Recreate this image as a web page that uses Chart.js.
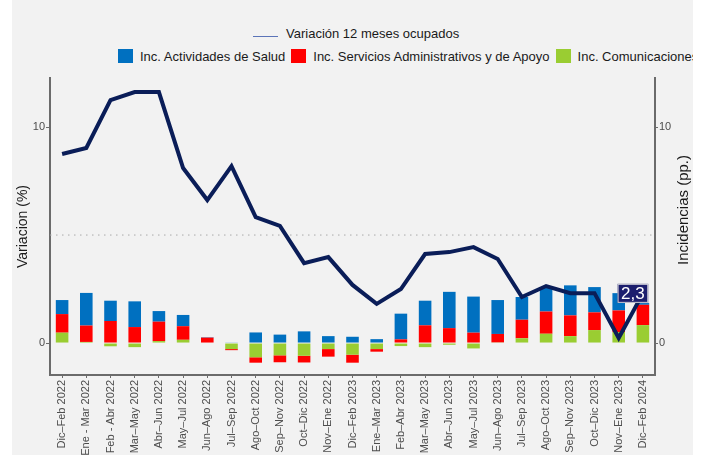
<!DOCTYPE html>
<html>
<head>
<meta charset="utf-8">
<script src="https://cdn.jsdelivr.net/npm/chart.js@4/dist/chart.umd.min.js"></script>
<style>
  html, body { margin: 0; padding: 0; background: #ffffff; }
  body { width: 704px; height: 455px; position: relative; overflow: hidden; font-family: "Liberation Sans", Arial, sans-serif; }
  #panel { position: absolute; left: 12px; top: 0; width: 681px; height: 455px; background: #f2f2f2; overflow: hidden; }
  .fila { position: absolute; display: flex; align-items: flex-start; white-space: nowrap; font-size: 13px; line-height: 15px; color: #1a1a1a; }
  #fila1 { left: 241px; top: 26px; }
  #fila2 { left: 106px; top: 49px; }
  .linea { width: 25px; height: 1px; background: #5b74b8; margin-top: 10px; margin-right: 8px; }
  .caja { width: 15px; height: 14px; margin-right: 7px; flex: none; }
  .item { margin-right: 6px; }
  #grafico { position: absolute; left: 0; top: 0; }
</style>
</head>
<body>
<div id="panel">
  <div class="fila" id="fila1"><span class="linea"></span><span>Variación 12 meses ocupados</span></div>
  <div class="fila" id="fila2"></div>
</div>
<canvas id="grafico" width="704" height="455"></canvas>
<script>
// Trimestres moviles
const categorias = [
    "Dic–Feb 2022", "Ene - Mar 2022", "Feb - Abr 2022", "Mar–May 2022", "Abr–Jun 2022",
    "May–Jul 2022", "Jun–Ago 2022", "Jul–Sep 2022", "Ago–Oct 2022", "Sep–Nov 2022",
    "Oct–Dic 2022", "Nov–Ene 2022", "Dic–Feb 2023", "Ene–Mar 2023", "Feb–Abr 2023",
    "Mar–May 2023", "Abr–Jun 2023", "May–Jul 2023", "Jun–Ago 2023", "Jul–Sep 2023",
    "Ago–Oct 2023", "Sep–Nov 2023", "Oct–Dic 2023", "Nov–Ene 2023", "Dic–Feb 2024"
];

// Variacion 12 meses ocupados (%)
const variacion = [8.75, 9.03, 11.25, 11.62, 11.62, 8.1, 6.62, 8.19, 5.83, 5.42, 3.7, 3.98, 2.69,
    1.81, 2.5, 4.12, 4.21, 4.44, 3.89, 2.13, 2.64, 2.31, 2.31, 0.23, 2.3];

// Incidencias (pp.)
const incSalud = [0.65, 1.51, 0.94, 1.19, 0.49, 0.52, 0.02, 0.03, 0.49, 0.39, 0.54, 0.32, 0.29,
    0.18, 1.19, 1.14, 1.68, 1.67, 1.57, 1.05, 1.1, 1.39, 1.17, 0.8, 0.08];
const incServicios = [0.86, 0.76, 1.02, 0.74, 0.9, 0.63, 0.25, -0.05, -0.25, -0.32, -0.31, -0.35, -0.37,
    -0.12, 0.17, 0.82, 0.69, 0.48, 0.39, 0.86, 1.03, 0.96, 0.82, 1.0, 0.94];
const incComunicaciones = [0.48, 0.05, -0.15, -0.19, 0.09, 0.15, 0, -0.28, -0.66, -0.57, -0.59, -0.28, -0.54,
    -0.28, -0.14, -0.19, -0.08, -0.25, 0.03, 0.22, 0.43, 0.32, 0.6, 0.51, 0.83];

const ticksY = [0, 10];
const lineaReferencia = 5;
const rangoY = [-1.48, 12.27];

const nombreLinea = "Variación 12 meses ocupados";
const nombresBarras = ["Inc. Actividades de Salud", "Inc. Servicios Administrativos y de Apoyo", "Inc. Comunicaciones"];
const coloresBarras = ["#0070c0", "#ff0000", "#9acd32"];

// Leyenda en HTML (segunda fila se corta a la derecha como en el original)
const fila2 = document.getElementById("fila2");
nombresBarras.forEach((nombre, i) => {
    const caja = document.createElement("span");
    caja.className = "caja";
    caja.style.background = coloresBarras[i];
    const txt = document.createElement("span");
    txt.className = "item";
    txt.textContent = nombre;
    fila2.appendChild(caja);
    fila2.appendChild(txt);
});

Chart.defaults.font.family = '"Liberation Sans", Arial, sans-serif';

// Linea punteada en 5, titulo derecho y etiqueta del ultimo dato
const extras = {
    id: "extras",
    beforeDatasetsDraw(chart) {
        const { ctx, chartArea, scales } = chart;
        const y = scales.y.getPixelForValue(lineaReferencia);
        ctx.save();
        ctx.strokeStyle = "#a9a9a9";
        ctx.lineWidth = 1;
        ctx.setLineDash([1.5, 4.5]);
        ctx.beginPath();
        ctx.moveTo(chartArea.left, y);
        ctx.lineTo(chartArea.right, y);
        ctx.stroke();
        ctx.restore();
    },
    afterDatasetsDraw(chart) {
        const { ctx } = chart;
        const meta = chart.getDatasetMeta(0);
        const ultimo = meta.data[meta.data.length - 1];
        const valor = variacion[variacion.length - 1];
        const texto = valor.toFixed(1).replace(".", ",");
        ctx.save();
        ctx.font = '17px "Liberation Sans", Arial, sans-serif';
        const w = ctx.measureText(texto).width + 7;
        const h = 19;
        const cx = ultimo.x - 10;
        const cy = ultimo.y;
        ctx.fillStyle = "#1c1e6e";
        ctx.fillRect(cx - w / 2, cy - h / 2, w, h);
        ctx.strokeStyle = "#d0d0d8";
        ctx.lineWidth = 1;
        ctx.strokeRect(cx - w / 2 + 0.5, cy - h / 2 + 0.5, w - 1, h - 1);
        ctx.fillStyle = "#ffffff";
        ctx.textAlign = "center";
        ctx.textBaseline = "middle";
        ctx.fillText(texto, cx, cy + 1);
        ctx.restore();
    },
    afterDraw(chart) {
        const { ctx } = chart;
        ctx.save();
        ctx.translate(684, 210);
        ctx.rotate(-Math.PI / 2);
        ctx.font = '15px "Liberation Sans", Arial, sans-serif';
        ctx.fillStyle = "#1a1a1a";
        ctx.textAlign = "center";
        ctx.textBaseline = "middle";
        ctx.fillText("Incidencias (pp.)", 0, 0);
        ctx.restore();
    }
};

const soloTicks = (scale) => { scale.ticks = ticksY.map(v => ({ value: v })); };

const ctx = document.getElementById("grafico").getContext("2d");
const chart = new Chart(ctx, {
    type: "bar",
    data: {
        labels: categorias,
        datasets: [
            {
                type: "line",
                label: nombreLinea,
                data: variacion,
                yAxisID: "y",
                borderColor: "#0a1d58",
                borderWidth: 4,
                pointRadius: 0,
                tension: 0,
                fill: false,
                order: 0
            },
            // orden de apilado: verde abajo, luego rojo, azul arriba
            { label: nombresBarras[2], data: incComunicaciones, backgroundColor: coloresBarras[2], yAxisID: "y1", order: 1 },
            { label: nombresBarras[1], data: incServicios, backgroundColor: coloresBarras[1], yAxisID: "y1", order: 1 },
            { label: nombresBarras[0], data: incSalud, backgroundColor: coloresBarras[0], yAxisID: "y1", order: 1 }
        ]
    },
    options: {
        responsive: false,
        animation: false,
        barPercentage: 0.52,
        categoryPercentage: 1,
        layout: { padding: { top: 78, left: 12, right: 0, bottom: 0 } },
        plugins: {
            legend: { display: false },
            tooltip: { enabled: false }
        },
        scales: {
            x: {
                stacked: true,
                offset: true,
                grid: { display: true, drawOnChartArea: false, offset: false, tickLength: 3, color: "#6b6b6b" },
                border: { display: true, color: "#6b6b6b", width: 2 },
                ticks: { autoSkip: false, maxRotation: 90, minRotation: 90, padding: 2, color: "#4d4d4d", font: { size: 11 } },
                afterFit(scale) { scale.height = 80; }
            },
            y: {
                position: "left",
                min: rangoY[0],
                max: rangoY[1],
                afterBuildTicks: soloTicks,
                grid: { display: true, drawOnChartArea: false, tickLength: 4, color: "#6b6b6b" },
                border: { display: true, color: "#6b6b6b", width: 2 },
                ticks: { padding: 1, color: "#4d4d4d", font: { size: 11 } },
                title: { display: true, text: "Variacion (%)", color: "#1a1a1a", font: { size: 14 }, padding: { top: 3, bottom: 0 } },
                afterFit(scale) { scale.width = 38; }
            },
            y1: {
                position: "right",
                stacked: true,
                min: rangoY[0],
                max: rangoY[1],
                afterBuildTicks: soloTicks,
                grid: { display: true, drawOnChartArea: false, tickLength: 3, color: "#6b6b6b" },
                border: { display: true, color: "#6b6b6b", width: 2 },
                ticks: { padding: 1, color: "#4d4d4d", font: { size: 11 } },
                afterFit(scale) { scale.width = 49; }
            }
        }
    },
    plugins: [extras]
});
</script>
</body>
</html>
